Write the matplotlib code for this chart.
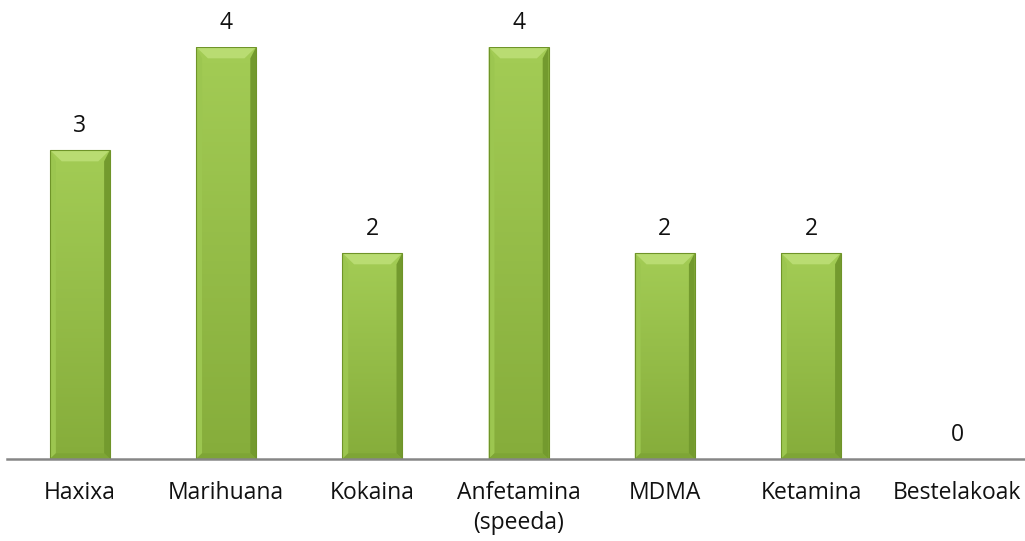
import numpy as np
import matplotlib.pyplot as plt
from matplotlib.patches import Polygon

categories = ['Haxixa', 'Marihuana', 'Kokaina', 'Anfetamina\n(speeda)', 'MDMA', 'Ketamina', 'Bestelakoak']
values = [3, 4, 2, 4, 2, 2, 0]

plt.rcParams['font.family'] = ['Open Sans', 'DejaVu Sans']

fig = plt.figure(figsize=(10.25, 5.41), dpi=100)
ax = fig.add_axes([7 / 1025, 0.1516, 1018 / 1025, 0.7615])

x = np.arange(len(categories))
width = 0.41
bars = ax.bar(x, values, width=width, color='#93bf47', edgecolor='none', zorder=2)

# gradient + bevel on every bar
grad = np.linspace(1, 0, 100).reshape(-1, 1)
cmap = plt.matplotlib.colors.LinearSegmentedColormap.from_list('g', ['#86ad3b', '#a3cc55'])
bx = 0.08   # bevel depth in x data units
by = 0.11   # bevel depth in y data units
for b in bars:
    x0, w, h = b.get_x(), b.get_width(), b.get_height()
    if h <= 0:
        continue
    im = ax.imshow(grad, extent=[x0, x0 + w, 0, h], aspect='auto', cmap=cmap, zorder=2)
    im.set_clip_path(b)
    x1 = x0 + w
    # top bevel (light)
    ax.add_patch(Polygon([[x0, h], [x1, h], [x1 - bx, h - by], [x0 + bx, h - by]],
                         closed=True, facecolor='#b9dc72', edgecolor='none', zorder=3))
    # left bevel
    ax.add_patch(Polygon([[x0, h], [x0 + bx * 0.5, h - by], [x0 + bx * 0.5, by * 0.5], [x0, 0]],
                         closed=True, facecolor='#9cc650', edgecolor='none', zorder=3))
    # right bevel (dark)
    ax.add_patch(Polygon([[x1, h], [x1 - bx * 0.5, h - by], [x1 - bx * 0.5, by * 0.5], [x1, 0]],
                         closed=True, facecolor='#739a2e', edgecolor='none', zorder=3))
    # bottom bevel
    ax.add_patch(Polygon([[x0, 0], [x1, 0], [x1 - bx * 0.5, by * 0.5], [x0 + bx * 0.5, by * 0.5]],
                         closed=True, facecolor='#7ea536', edgecolor='none', zorder=3))
    b.set_edgecolor('#6f9429')
    b.set_linewidth(0.8)
    b.set_facecolor('none')
    b.set_zorder(4)

for xi, v in zip(x, values):
    ax.text(xi, v + 0.12, str(v), ha='center', va='bottom', fontsize=16.5, color='#111111', clip_on=False)

ax.set_xlim(-0.4993, 6.464)
ax.set_ylim(0, 4)
ax.set_xticks(x)
ax.set_xticklabels(categories, fontsize=16.5, color='#111111', linespacing=1.3)
ax.tick_params(axis='x', length=0, pad=16)
ax.set_yticks([])
for s in ['top', 'left', 'right']:
    ax.spines[s].set_visible(False)
ax.spines['bottom'].set_color('#868686')
ax.spines['bottom'].set_linewidth(1.8)
ax.spines['bottom'].set_zorder(5)

fig.savefig('out.png', dpi=100)
